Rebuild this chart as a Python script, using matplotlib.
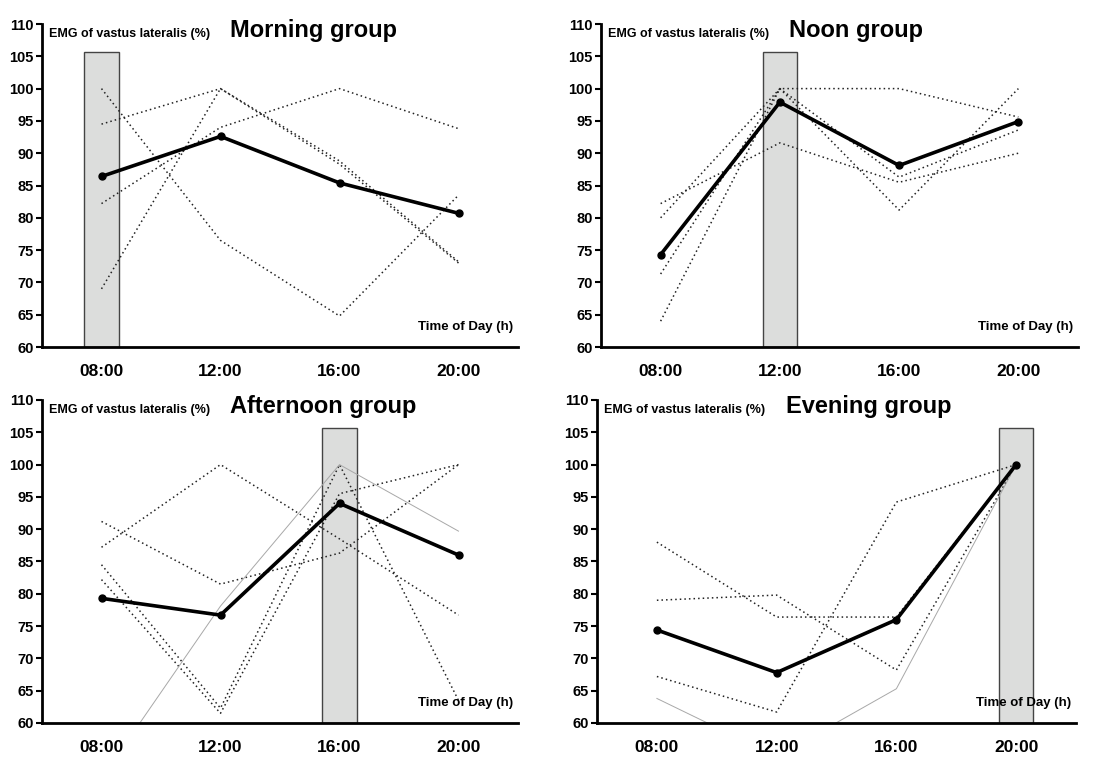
import matplotlib
matplotlib.use("Agg")
import matplotlib.pyplot as plt

plt.rcParams['font.family'] = ['Liberation Sans', 'DejaVu Sans']
plt.rcParams['font.weight'] = 'bold'

# categories
times = ['08:00', '12:00', '16:00', '20:00']
yticks = [60, 65, 70, 75, 80, 85, 90, 95, 100, 105, 110]

# Morning group (shaded time: 08:00)
morning_mean = [86.4, 92.6, 85.4, 80.7]
morning_subj = [
    [100.0, 76.5, 64.8, 83.5],
    [94.5, 100.0, 88.8, 73.2],
    [69.0, 100.0, 88.3, 73.0],
    [82.2, 94.0, 100.0, 93.8],
]
morning_grey = []

# Noon group (shaded time: 12:00)
noon_mean = [74.3, 97.9, 88.1, 94.9]
noon_subj = [
    [82.2, 91.6, 85.5, 90.0],
    [80.0, 100.0, 100.0, 95.6],
    [71.3, 100.0, 86.3, 93.6],
    [64.0, 100.0, 81.2, 100.0],
]
noon_grey = []

# Afternoon group (shaded time: 16:00)
afternoon_mean = [79.3, 76.7, 94.0, 86.0]
afternoon_subj = [
    [87.2, 100.0, 88.5, 76.7],
    [91.2, 81.5, 86.3, 100.0],
    [84.5, 62.3, 100.0, 63.5],
    [82.2, 61.5, 95.5, 100.0],
]
afternoon_grey = [51.4, 78.1, 100.0, 89.7]

# Evening group (shaded time: 20:00)
evening_mean = [74.4, 67.8, 76.0, 100.0]
evening_subj = [
    [88.0, 76.4, 76.4, 100.0],
    [79.0, 79.8, 68.2, 100.0],
    [67.2, 61.7, 94.2, 100.0],
]
evening_grey = [63.8, 54.8, 65.3, 100.0]

panels = [
    ('Morning group', 0, morning_mean, morning_subj, morning_grey),
    ('Noon group', 1, noon_mean, noon_subj, noon_grey),
    ('Afternoon group', 2, afternoon_mean, afternoon_subj, afternoon_grey),
    ('Evening group', 3, evening_mean, evening_subj, evening_grey),
]

W, H = 1112, 758
fig = plt.figure(figsize=(W / 100, H / 100), dpi=100)

# axes boxes in pixels: left, top(110), right, bottom(60)
boxes = [
    (42, 24, 518, 347),
    (601, 24, 1078, 347),
    (42, 400, 518, 723),
    (597, 400, 1076, 723),
]

xs = list(range(len(times)))

for (title, shade, mean, subj, grey), (l, t, r, b) in zip(panels, boxes):
    ax = fig.add_axes([l / W, 1 - b / H, (r - l) / W, (b - t) / H])
    ax.set_xlim(-0.5, 3.5)
    ax.set_ylim(60, 110)

    # shaded bar at the training time
    ax.bar(shade, 105.7 - 60, bottom=60, width=0.29, color='#dcdddc',
           edgecolor='#444444', linewidth=1.0, zorder=1)

    for s in subj:
        ax.plot(xs, s, color='#222222', linestyle=(0, (1, 2.0)),
                linewidth=1.1, zorder=2)
    if grey:
        ax.plot(xs, grey, color='#a8a8a8', linewidth=0.7, zorder=2)

    ax.plot(xs, mean, color='black', linewidth=2.6, marker='o',
            markersize=5, zorder=3)

    for side in ['top', 'right']:
        ax.spines[side].set_visible(False)
    for side in ['left', 'bottom']:
        ax.spines[side].set_linewidth(2.0)

    ax.set_yticks(yticks)
    ax.set_yticklabels([str(v) for v in yticks], fontsize=10.5, fontweight='bold')
    ax.tick_params(axis='y', length=4, width=1.5, pad=2)
    ax.set_xticks(xs)
    ax.set_xticklabels(times, fontsize=12.5, fontweight='bold')
    ax.tick_params(axis='x', length=0, pad=12)

    ax.text(0.015, 0.988, 'EMG of vastus lateralis (%)', transform=ax.transAxes,
            fontsize=9, fontweight='bold', va='top', ha='left')
    ax.text(0.395, 1.015, title, transform=ax.transAxes,
            fontsize=17, fontweight='bold', va='top', ha='left')
    ax.text(0.99, 0.043, 'Time of Day (h)', transform=ax.transAxes,
            fontsize=9.5, fontweight='bold', va='bottom', ha='right', zorder=4)

fig.savefig('out.png', dpi=100)
